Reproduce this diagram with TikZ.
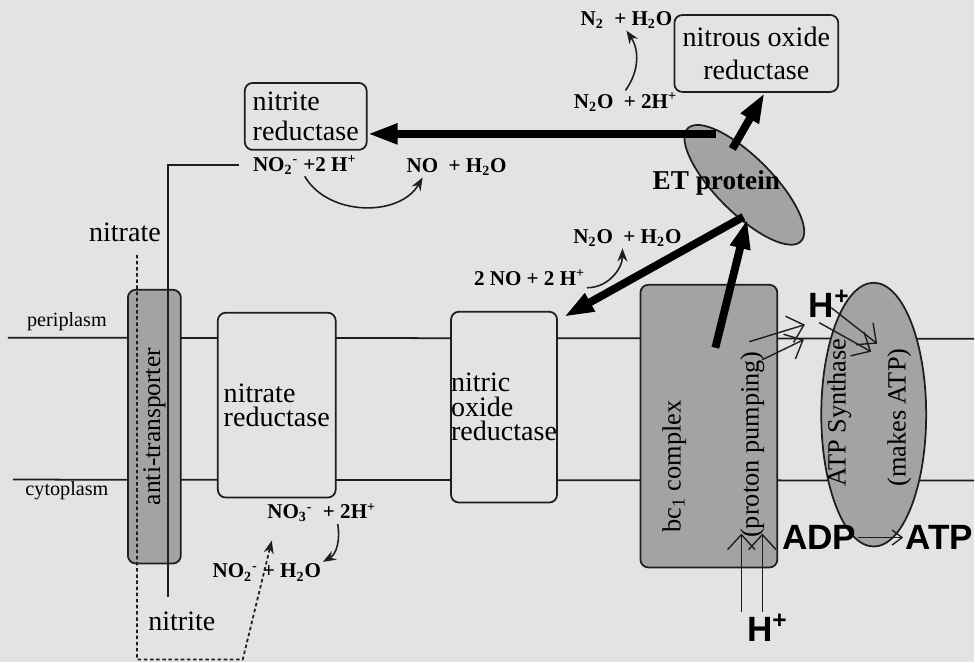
\documentclass[tikz,border=0pt]{standalone}
\usepackage{fontspec}
\setmainfont{Liberation Serif}
\setsansfont{Liberation Sans}
\usetikzlibrary{arrows.meta,shapes.geometric,calc}
\definecolor{paper}{RGB}{227,227,227}
\definecolor{shade}{RGB}{163,163,163}
\definecolor{ink}{RGB}{30,30,30}
\tikzset{
  enzyme/.style={draw=ink,line width=1pt,rounded corners=4.5pt,fill=paper,align=left,inner sep=1pt,font=\fontsize{16}{14}\selectfont},
  shaded/.style={enzyme,fill=shade},
  blob/.style={ellipse,draw=ink,line width=1pt,fill=shade,inner sep=0pt},
  vlbl/.style={rotate=90,font=\fontsize{15}{15}\selectfont,inner sep=0pt},
  side/.style={font=\fontsize{11.5}{12}\selectfont},
  chem/.style={font=\bfseries\fontsize{12}{12}\selectfont,inner sep=1pt},
  big/.style={font=\sffamily\bfseries\fontsize{20}{20}\selectfont,inner sep=1pt},
  memline/.style={draw=ink,line width=1pt},
  trail/.style={draw=ink,line width=1pt,dash pattern=on 2pt off 1.5pt},
  rxn/.style={-{Stealth[length=2.6mm,width=2mm]},draw=ink,line width=0.9pt},
  fatarr/.style={-{Triangle[length=6mm,width=3.8mm]},draw=black,line width=4.5pt},
  pump/.style={-{Straight Barb[length=3mm,width=5.5mm]},draw=ink,line width=0.8pt},
  tiny/.style={-{Straight Barb[length=2mm,width=3mm]},draw=ink,line width=0.8pt}
}
\begin{document}
\begin{tikzpicture}[x=0.02cm,y=-0.02cm]
  \fill[paper] (0,0) rectangle (975,663);
  % membrane
  \draw[memline] (8,338) -- (975,339);
  \draw[memline] (13,480) -- (975,481);
  \node[side] (peri) at (67,322) {periplasm};
  \node[side] (cyto) at (67,491) {cytoplasm};

  % proteins in the membrane
  \node[shaded,rotate=90,align=center,minimum width=5.48cm,minimum height=1.06cm,font=\fontsize{14.5}{15}\selectfont] (anti) at (154.5,427) {anti-transporter};
  \node[enzyme,minimum width=2.36cm,minimum height=3.7cm] (nitrateRed) at (277,405.5) {nitrate\\reductase};
  \node[enzyme,inner sep=0pt,minimum width=2.1cm,minimum height=3.82cm] (nitricRed) at (504.5,407.5) {nitric\\oxide\\reductase};
  \node[shaded,minimum width=2.74cm,minimum height=5.66cm] (bc1) at (709.5,426.5) {};
  \node[vlbl] (bcName) at (675,467) {bc\textsubscript{1} complex};
  \node[vlbl] (bcPump) at (753,445) {(proton pumping)};
  \node[blob,minimum width=2.1cm,minimum height=5.28cm] (atp) at (874.5,415) {};
  \node[vlbl] (atpName) at (840,413) {ATP Synthase};
  \node[vlbl] (atpMakes) at (900,418) {(makes ATP)};

  % periplasmic proteins
  \node[blob,rotate=-45,minimum width=3.2cm,minimum height=1.12cm] (et) at (745,185) {};
  \node[font=\bfseries\fontsize{15.5}{16}\selectfont] (etName) at (717,183) {ET protein};
  \node[enzyme,minimum width=2.44cm,minimum height=1.34cm,font=\fontsize{16}{17}\selectfont] (nitriteRed) at (306,116.5) {nitrite\\reductase};
  \node[enzyme,align=center,minimum width=3.28cm,minimum height=1.54cm,font=\fontsize{16}{19}\selectfont] (nitrousRed) at (757,53.5) {nitrous oxide\\reductase};

  % substrates
  \node[font=\fontsize{16}{16}\selectfont] (nitrate) at (125,233) {nitrate};
  \node[font=\fontsize{16}{16}\selectfont] (nitrite) at (182,622) {nitrite};
  \node[chem] (n2A) at (627,20) {N\textsubscript{2} \ + H\textsubscript{2}O};
  \node[chem] (n2oA) at (626,102) {N\textsubscript{2}O \ + 2H\textsuperscript{+}};
  \node[chem] (no2B) at (305,165) {NO\textsubscript{2}\textsuperscript{-} +2 H\textsuperscript{+}};
  \node[chem] (noB) at (457,167) {NO \ + H\textsubscript{2}O};
  \node[chem] (n2oC) at (628,238) {N\textsubscript{2}O \ + H\textsubscript{2}O};
  \node[chem] (noC) at (530,278) {2 NO + 2 H\textsuperscript{+}};
  \node[chem] (no3D) at (322,513) {NO\textsubscript{3}\textsuperscript{-} \ + 2H\textsuperscript{+}};
  \node[chem] (no2D) at (267,573) {NO\textsubscript{2}\textsuperscript{-} + H\textsubscript{2}O};
  \node[big] (hTop) at (830,304) {H\textsuperscript{+}};
  \node[big] (hBot) at (768,628) {H\textsuperscript{+}};
  \node[big] (adp) at (820,538) {ADP};
  \node[big] (atpT) at (940,538) {ATP};

  % transport paths
  \coordinate (solBot) at (168,598);
  \coordinate (dotTop) at (137,255);
  \coordinate (dotBot) at (137,660);
  \coordinate (dotCorner) at (243,660);
  \coordinate (no3In) at (272,541);
  \draw[memline] (solBot) |- ([xshift=-0.24cm]no2B.west);
  \draw[trail,-{Stealth[length=2.6mm,width=2mm]}] (dotTop) -- (dotBot) -- (dotCorner) -- (no3In);

  % reactions
  \draw[rxn] (n2oA.north) to[bend right=35] (n2A.south);
  \draw[rxn] (no2B.south) to[out=-60,in=-120] ([xshift=-0.68cm]noB.south);
  \draw[rxn] (noC.south east) to[out=0,in=-90] ([xshift=-0.1cm]n2oC.south);
  \draw[rxn] ([xshift=0.32cm]no3D.south) to[out=-80,in=30] (no2D.north east);

  % electron transfer
  \coordinate (etL) at (717,134);
  \coordinate (etU) at (733,149);
  \coordinate (etR) at (744,217);
  \coordinate (etB) at (748,219);
  \coordinate (bcTop) at (716,348);
  \draw[fatarr] (etL) -- (nitriteRed.east |- etL);
  \draw[fatarr] (etU) -- (nitrousRed.-78);
  \draw[fatarr] (etR) -- ([shift={(6,6)}]nitricRed.north east);
  \draw[fatarr] (bcTop) -- (etB);

  % protons
  \coordinate (pumpA) at (750,342);
  \coordinate (pumpB) at (763,360);
  \coordinate (atpA) at (878,344);
  \coordinate (atpB) at (872,352);
  \draw[pump] (pumpA) -- ([shift={(-2,5)}]hTop.south west);
  \draw[pump] (pumpB) -- ([shift={(-3,20)}]hTop.south west);
  \draw[pump] ([shift={(2,4)}]hTop.center) -- (atpA);
  \draw[pump] ([shift={(-10,19)}]hTop.center) -- (atpB);
  \draw[pump] ([xshift=-0.52cm]hBot.north) -- ++(0,-78);
  \draw[pump] ([xshift=-0.1cm]hBot.north) -- ++(0,-78);
  \draw[tiny] (adp.east) -- (atpT.west);
\end{tikzpicture}
\end{document}
